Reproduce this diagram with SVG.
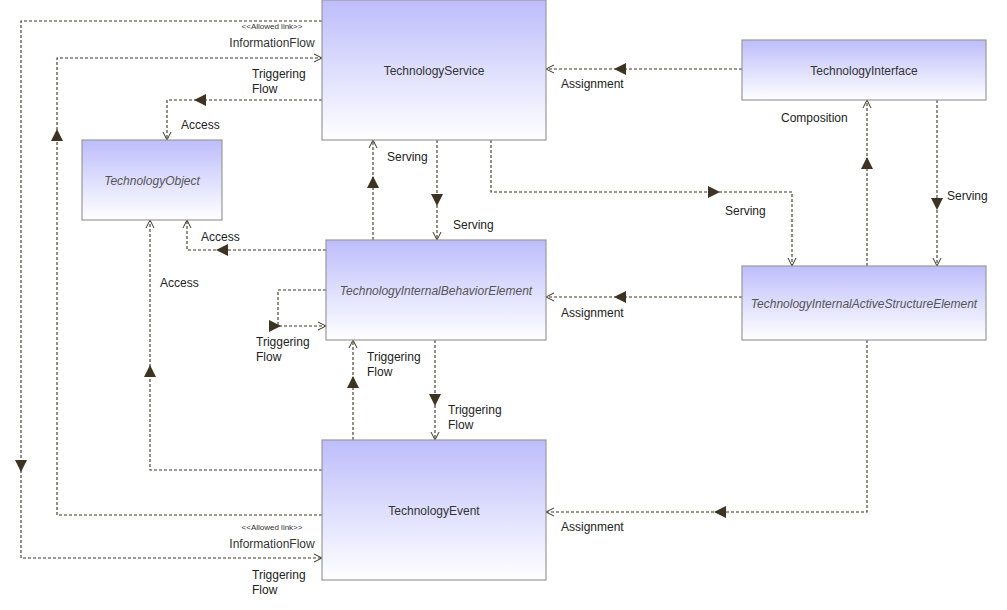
<svg xmlns="http://www.w3.org/2000/svg" width="1007" height="610" viewBox="0 0 1007 610">
<defs>
<linearGradient id="g" x1="0" y1="0" x2="0" y2="1"><stop offset="0" stop-color="#bdbdfc"/><stop offset="1" stop-color="#ffffff"/></linearGradient>
<marker id="a" markerWidth="12" markerHeight="12" refX="9" refY="5" orient="auto" markerUnits="userSpaceOnUse"><path d="M1,1 L9,5 L1,9" fill="none" stroke="#3d3322" stroke-width="1"/></marker>
</defs>
<style>
rect.n{fill:url(#g);stroke:#999;stroke-width:1.2}
.c path{fill:none;stroke:#3d3322;stroke-width:1.1;stroke-dasharray:3,2;marker-end:url(#a)}
.c polygon{fill:#3d3322}
text{font-family:"Liberation Sans",Arial,sans-serif;font-size:12px;fill:#222}
.t{fill:#333;text-anchor:middle}
.i{font-style:italic;fill:#555}
.s{font-size:8px}
</style>
<rect width="1007" height="610" fill="#fff"/>
<g class="c">
<path d="M322,21 H21 V558 H322"/><polygon points="15,460 27,460 21,472"/>
<path d="M322,515 H57 V58 H322"/><polygon points="51,141 63,141 57,129"/>
<path d="M322,100 H167 V140"/><polygon points="206,94 206,106 194,100"/>
<path d="M437,140 V240"/><polygon points="431,194 443,194 437,206"/>
<path d="M373,240 V140"/><polygon points="367,188 379,188 373,176"/>
<path d="M491,140 V192 H792 V266"/><polygon points="708,186 708,198 720,192"/>
<path d="M742,69 H546"/><polygon points="626,63 626,75 614,69"/>
<path d="M867,266 V100"/><polygon points="861,169 873,169 867,157"/>
<path d="M937,100 V266"/><polygon points="931,198 943,198 937,210"/>
<path d="M742,297 H546"/><polygon points="626,291 626,303 614,297"/>
<path d="M326,250 H187 V220"/><polygon points="228,244 228,256 216,250"/>
<path d="M326,290 H278 V326 H326"/><polygon points="269,320 269,332 281,326"/>
<path d="M435,340 V440"/><polygon points="429,394 441,394 435,406"/>
<path d="M353,440 V340"/><polygon points="347,388 359,388 353,376"/>
<path d="M322,470 H150 V220"/><polygon points="144,377 156,377 150,365"/>
<path d="M867,340 V512 H546"/><polygon points="726,506 726,518 714,512"/>
</g>
<g id="labels">
<text x="272" y="29" class="t s">&lt;&lt;Allowed link&gt;&gt;</text>
<text x="272" y="47" class="t">InformationFlow</text>
<text x="252" y="78">Triggering</text><text x="252" y="93">Flow</text>
<text x="181" y="129">Access</text>
<text x="387" y="161">Serving</text>
<text x="453" y="229">Serving</text>
<text x="725" y="215">Serving</text>
<text x="561" y="88">Assignment</text>
<text x="781" y="122">Composition</text>
<text x="947" y="200">Serving</text>
<text x="561" y="317">Assignment</text>
<text x="201" y="241">Access</text>
<text x="160" y="287">Access</text>
<text x="256" y="346">Triggering</text><text x="256" y="361">Flow</text>
<text x="367" y="361">Triggering</text><text x="367" y="376">Flow</text>
<text x="448" y="414">Triggering</text><text x="448" y="429">Flow</text>
<text x="561" y="531">Assignment</text>
<text x="272" y="530" class="t s">&lt;&lt;Allowed link&gt;&gt;</text>
<text x="272" y="548" class="t">InformationFlow</text>
<text x="252" y="579">Triggering</text><text x="252" y="594">Flow</text>
</g>
<g id="TechnologyService"><rect class="n" x="322" y="0" width="224" height="140"/><text x="434" y="75" class="t">TechnologyService</text></g>
<g id="TechnologyInterface"><rect class="n" x="742" y="40" width="244" height="60"/><text x="864" y="75" class="t">TechnologyInterface</text></g>
<g id="TechnologyObject"><rect class="n" x="82" y="140" width="140" height="80"/><text x="152" y="185" class="t i">TechnologyObject</text></g>
<g id="TechnologyInternalBehaviorElement"><rect class="n" x="326" y="240" width="220" height="100"/><text x="436" y="295" class="t i">TechnologyInternalBehaviorElement</text></g>
<g id="TechnologyInternalActiveStructureElement"><rect class="n" x="742" y="266" width="244" height="74"/><text x="864" y="308" class="t i">TechnologyInternalActiveStructureElement</text></g>
<g id="TechnologyEvent"><rect class="n" x="322" y="440" width="224" height="140"/><text x="434" y="515" class="t">TechnologyEvent</text></g>
</svg>
